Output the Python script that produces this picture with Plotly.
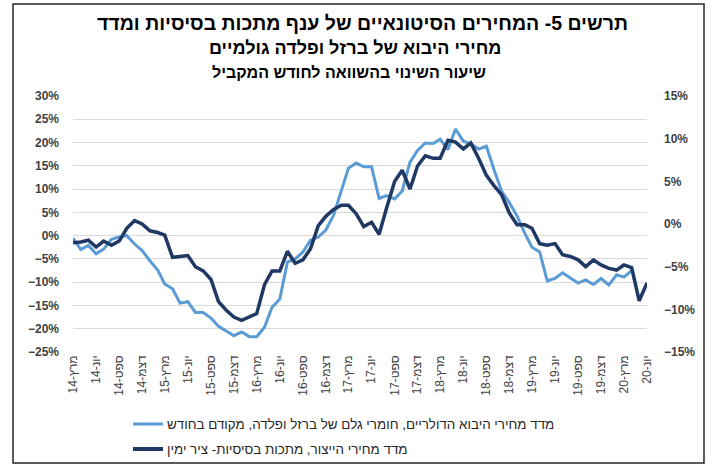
import plotly.graph_objects as go
import pandas as pd

# Months: Mar-2014 .. Jun-2020
months = pd.date_range("2014-03-01", periods=76, freq="MS")

# Light series (left axis, %): import prices, advanced by one month (Mar-14 .. Apr-20)
import_prices = [
    -0.5, -3.0, -2.1, -3.9, -2.9, -0.8, -0.3, 0.0, -1.8, -3.2,
    -5.4, -7.4, -10.4, -11.4, -14.5, -14.2, -16.5, -16.5, -17.7, -19.5,
    -20.5, -21.5, -20.7, -21.7, -21.7, -19.7, -15.4, -13.6, -5.7, -5.0,
    -3.5, -1.0, -0.3, 1.2, 4.4, 9.5, 14.5, 15.6, 14.8, 14.8,
    8.0, 8.6, 7.9, 9.6, 15.8, 18.3, 19.9, 19.8, 20.7, 18.5,
    22.9, 20.3, 19.7, 18.6, 19.2, 14.2, 9.5, 7.1, 4.2, 0.5,
    -2.5, -3.5, -9.7, -9.2, -8.0, -9.1, -10.2, -9.5, -10.5, -9.2,
    -10.6, -8.4, -8.9, -7.5,
]

# Dark series (right axis, %): producer prices, basic metals (Mar-14 .. Jun-20)
producer_prices = [
    -2.2, -2.1, -1.9, -2.7, -2.0, -2.5, -2.0, -0.5, 0.4, 0.0,
    -0.8, -1.0, -1.3, -3.9, -3.8, -3.7, -5.0, -5.5, -6.5, -9.1,
    -10.1, -10.9, -11.3, -10.9, -10.5, -7.1, -5.5, -5.5, -3.2, -4.6,
    -4.2, -2.9, -0.2, 0.9, 1.7, 2.2, 2.2, 1.2, -0.3, 0.2,
    -1.2, 2.0, 5.0, 6.3, 4.1, 6.8, 8.0, 7.7, 7.7, 9.8,
    9.6, 8.8, 9.5, 7.7, 5.7, 4.5, 3.4, 1.3, -0.1, -0.1,
    -0.5, -2.3, -2.5, -2.3, -3.6, -3.8, -4.2, -5.0, -4.2, -4.8,
    -5.2, -5.4, -4.8, -5.1, -9.0, -6.9,
]

tick_labels = [
    "מרץ-14", "יונ-14", "ספט-14", "דצמ-14",
    "מרץ-15", "יונ-15", "ספט-15", "דצמ-15",
    "מרץ-16", "יונ-16", "ספט-16", "דצמ-16",
    "מרץ-17", "יונ-17", "ספט-17", "דצמ-17",
    "מרץ-18", "יונ-18", "ספט-18", "דצמ-18",
    "מרץ-19", "יונ-19", "ספט-19", "דצמ-19",
    "מרץ-20", "יונ-20",
]
tick_vals = list(months[::3])

name_light = "מדד מחירי היבוא הדולריים, חומרי גלם של ברזל ופלדה, מקודם בחודש"
name_dark = "מדד מחירי הייצור, מתכות בסיסיות- ציר ימין"

FONT = "Arial, Liberation Sans, sans-serif"
LIGHT = "#5B9BD5"
DARK = "#1F3864"
TICKC = "#3F3F3F"

fig = go.Figure()
fig.add_trace(go.Scatter(
    x=months[:len(import_prices)], y=import_prices, mode="lines", name=name_light,
    line=dict(color=LIGHT, width=3), yaxis="y",
))
fig.add_trace(go.Scatter(
    x=months, y=producer_prices, mode="lines", name=name_dark,
    line=dict(color=DARK, width=3.5), yaxis="y2",
))

# plot area: x 73..647, y 96..352
L, R, T, B = 73, 647, 96, 352
W, H = 715, 465
pw, ph = R - L, B - T

def px(x):
    return (x - L) / pw

def py(y):
    return (B - y) / ph

tickfont = dict(family=FONT, size=12, color=TICKC, weight="bold")

# manual legend (line sample + text)
legend_items = [(name_light, LIGHT, 3, 424), (name_dark, DARK, 4, 449)]
legend_shapes = [
    dict(type="line", xref="paper", yref="paper",
         x0=px(133), x1=px(163), y0=py(yy), y1=py(yy),
         line=dict(color=c, width=w))
    for (_, c, w, yy) in legend_items
]
legend_ann = [
    dict(text=t, xref="paper", yref="paper", x=px(165), y=py(yy),
         showarrow=False, xanchor="left", yanchor="middle",
         font=dict(family=FONT, size=13.4, color="#262626"))
    for (t, _, _, yy) in legend_items
]

fig.update_layout(
    width=W, height=H,
    margin=dict(l=L, r=W - R, t=T, b=H - B, pad=0),
    paper_bgcolor="white", plot_bgcolor="white",
    font=dict(family=FONT, color=TICKC, size=12),
    showlegend=False,
    xaxis=dict(
        type="date", range=[months[0], months[-1]],
        tickmode="array", tickvals=tick_vals, ticktext=tick_labels,
        tickangle=-90, showgrid=False, zeroline=False, showline=False,
        ticks="", tickfont=dict(family=FONT, size=12, color=TICKC),
        automargin=False,
    ),
    yaxis=dict(
        range=[-25, 30], dtick=5, tick0=0, ticksuffix="%",
        showgrid=True, gridcolor="#D9D9D9", gridwidth=1,
        zeroline=False, showline=False, ticks="",
        ticklabelstandoff=13, automargin=False,
        tickfont=tickfont,
    ),
    yaxis2=dict(
        range=[-15, 15], dtick=5, tick0=0, ticksuffix="%",
        overlaying="y", side="right", showgrid=False, zeroline=False,
        showline=False, ticks="", ticklabelstandoff=16, automargin=False,
        tickfont=tickfont,
    ),
    shapes=[dict(
        type="rect", xref="paper", yref="paper",
        x0=px(13), x1=px(704), y0=py(463), y1=py(4),
        line=dict(color="#262626", width=1.5), fillcolor="rgba(0,0,0,0)",
        layer="below",
    )] + legend_shapes,
    annotations=[
        dict(text="<b>תרשים 5- המחירים הסיטונאיים של ענף מתכות בסיסיות ומדד</b>",
             xref="paper", yref="paper", x=px(362), y=py(23), showarrow=False,
             xanchor="center", yanchor="middle",
             font=dict(family=FONT, size=19.5, color="#000000")),
        dict(text="<b>מחירי היבוא של ברזל ופלדה גולמיים</b>",
             xref="paper", yref="paper", x=px(355), y=py(48), showarrow=False,
             xanchor="center", yanchor="middle",
             font=dict(family=FONT, size=18, color="#000000")),
        dict(text="<b>שיעור השינוי בהשוואה לחודש המקביל</b>",
             xref="paper", yref="paper", x=px(349), y=py(72), showarrow=False,
             xanchor="center", yanchor="middle",
             font=dict(family=FONT, size=16, color="#000000")),
    ] + legend_ann,
)

fig.write_html(
    "out.html",
    config={"displayModeBar": False},
    post_script="document.body.style.margin='0';document.body.style.overflow='hidden';",
)
